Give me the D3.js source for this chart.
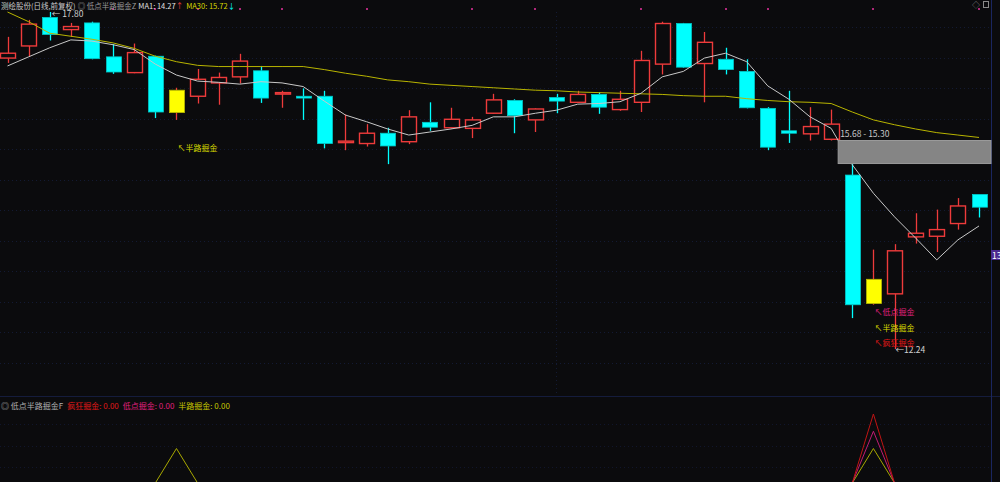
<!DOCTYPE html>
<html>
<head>
<meta charset="utf-8">
<script src="https://cdn.jsdelivr.net/npm/d3@7/dist/d3.min.js"></script>
<style>
  html, body { margin: 0; padding: 0; background: #0b0b0d; }
  svg { display: block; }
  text { font-family: "Noto Sans CJK SC", "Noto Sans", sans-serif; }
</style>
</head>
<body>
<svg id="chart"></svg>
<script>
// daily candles
var opens  = [17.04,17.24,17.71,17.51,17.62,17.06,16.80,17.07,16.51,16.41,16.63,16.73,16.83,16.47,16.41,16.41,15.66,15.63,15.80,15.66,15.98,15.89,15.88,16.13,16.34,16.02,16.39,16.31,16.44,16.19,16.31,16.94,17.61,16.95,17.02,16.82,16.21,15.84,15.79,15.70,15.11,13.39,13.15,14.09,14.10,14.31,14.79];
var closes = [17.12,17.60,17.43,17.56,17.03,16.81,17.13,16.15,16.14,16.69,16.72,16.99,16.38,16.47,16.38,15.63,15.67,15.80,15.59,16.07,15.90,16.03,16.02,16.35,16.09,16.20,16.33,16.44,16.23,16.36,17.00,17.61,16.89,17.30,16.85,16.22,15.57,15.80,15.91,15.95,12.97,12.99,13.86,14.15,14.21,14.60,14.58];
var highs  = [17.39,17.67,17.80,17.62,17.64,17.27,17.28,17.08,16.55,16.86,16.80,17.11,16.91,16.50,16.54,16.50,16.11,15.95,15.89,16.18,16.31,16.22,16.07,16.45,16.36,16.21,16.45,16.50,16.48,16.50,17.16,17.64,17.62,17.47,17.21,17.02,16.23,16.50,16.23,16.19,15.30,13.88,13.97,14.48,14.54,14.73,14.79];
var lows   = [16.96,17.06,17.33,17.39,17.02,16.78,16.79,16.05,16.02,16.29,16.27,16.62,16.30,16.22,16.02,15.55,15.52,15.58,15.29,15.62,15.84,15.88,15.72,16.12,15.80,15.82,16.13,16.30,16.12,16.17,16.15,16.77,16.88,16.31,16.77,16.21,15.52,15.64,15.68,15.68,12.75,12.97,12.24,13.98,13.84,14.21,14.41];

// white average line (MA1 in header) and yellow MA30
var maShort = [16.91,17.06,17.21,17.34,17.32,17.26,17.18,16.94,16.76,16.66,16.64,16.61,16.65,16.63,16.57,16.33,16.10,15.99,15.87,15.77,15.82,15.87,15.93,16.07,16.07,16.13,16.18,16.28,16.29,16.32,16.46,16.73,16.82,17.04,17.12,16.98,16.58,16.36,16.07,15.88,15.28,14.81,14.42,14.07,13.71,14.04,14.27];
var ma30    = [17.80,17.64,17.45,17.40,17.35,17.29,17.20,17.07,16.98,16.92,16.90,16.90,16.90,16.90,16.90,16.85,16.79,16.74,16.68,16.65,16.61,16.59,16.57,16.55,16.53,16.51,16.50,16.48,16.47,16.46,16.45,16.44,16.42,16.41,16.41,16.37,16.34,16.32,16.31,16.29,16.15,16.02,15.94,15.87,15.81,15.77,15.73];

// indicator signals (day index) and their levels in the lower panel
var halfSignalDays  = [8, 41];
var lowSignalDays   = [41];
var crazySignalDays = [41];
var halfLevel = 1, lowLevel = 1.5, crazyLevel = 2;

// small marks along the top edge
var markDays = [5,7,9,11,13,17,22,25,30,34,36,41,46];

// price gap
var gapFromDay = 39, gapHigh = 15.68, gapLow = 15.30;

var dayIndex = d3.range(opens.length);

var W = 1000, H = 482;
var RED = "#ee3b3b", CYAN = "#00ffff", YEL = "#ffff00";

var svg = d3.select("#chart")
	.attr("width", W)
	.attr("height", H)
	.style("background", "#0b0b0d");

var x = d3.scalePoint().domain(dayIndex).range([7.5, 979]);
var y = d3.scaleLinear().domain([12.24, 17.80]).range([349, 12]);
var ySub = d3.scaleLinear().domain([0, crazyLevel]).range([483, 414]);
var bodyW = 15;

// grid
var gridPrices = d3.range(17.55, 11.9, -0.503);
svg.append("g").selectAll("line")
	.data(gridPrices)
	.enter().append("line")
	.attr("x1", 0).attr("x2", 991)
	.attr("y1", function(d) { return Math.round(y(d)) + 0.5; })
	.attr("y2", function(d) { return Math.round(y(d)) + 0.5; })
	.attr("stroke", "#131a33")
	.attr("stroke-dasharray", "1,3");
svg.append("line")
	.attr("x1", 556.5).attr("x2", 556.5).attr("y1", 12).attr("y2", 396)
	.attr("stroke", "#131a33").attr("stroke-dasharray", "1,3");
[424.5, 446.5, 467.5].forEach(function(gy) {
	svg.append("line").attr("x1", 0).attr("x2", 991).attr("y1", gy).attr("y2", gy)
		.attr("stroke", "#11162c").attr("stroke-dasharray", "1,3");
});

// panel separators / right axis
svg.append("line").attr("x1", 0).attr("x2", W).attr("y1", 396.5).attr("y2", 396.5).attr("stroke", "#151c3c");
svg.append("line").attr("x1", 991.5).attr("x2", 991.5).attr("y1", 0).attr("y2", H).attr("stroke", "#1a2660");

// candles
function colorOf(i) {
	if (halfSignalDays.indexOf(i) >= 0) return YEL;
	return closes[i] >= opens[i] ? RED : CYAN;
}

var candles = svg.append("g").selectAll("g")
	.data(dayIndex)
	.enter().append("g");

candles.append("line")
	.attr("x1", function(i) { return Math.round(x(i)) + 0.5; })
	.attr("x2", function(i) { return Math.round(x(i)) + 0.5; })
	.attr("y1", function(i) { return y(highs[i]); })
	.attr("y2", function(i) { return y(Math.max(opens[i], closes[i])); })
	.attr("stroke", function(i) { return colorOf(i) == YEL ? RED : colorOf(i); })
	.attr("stroke-width", 1.3);
candles.append("line")
	.attr("x1", function(i) { return Math.round(x(i)) + 0.5; })
	.attr("x2", function(i) { return Math.round(x(i)) + 0.5; })
	.attr("y1", function(i) { return y(Math.min(opens[i], closes[i])); })
	.attr("y2", function(i) { return y(lows[i]); })
	.attr("stroke", function(i) { return colorOf(i) == YEL ? RED : colorOf(i); })
	.attr("stroke-width", 1.3);

candles.append("rect")
	.attr("x", function(i) { return Math.round(x(i) - bodyW / 2) + 0.5; })
	.attr("width", bodyW)
	.attr("y", function(i) { return y(Math.max(opens[i], closes[i])); })
	.attr("height", function(i) { return Math.max(1.5, Math.abs(y(opens[i]) - y(closes[i]))); })
	.attr("fill", function(i) {
		var c = colorOf(i);
		return c == RED ? "#0b0b0d" : c;
	})
	.attr("stroke", function(i) {
		var c = colorOf(i);
		if (c == RED) return RED;
		if (c == YEL) return "#b8b800";
		return "#00c8c8";
	})
	.attr("stroke-width", function(i) { return colorOf(i) == RED ? 1.4 : 0.8; });

// averages
var lineGen = function(arr) {
	return d3.line()
		.x(function(i) { return x(i); })
		.y(function(i) { return y(arr[i]); })(dayIndex);
};
svg.append("path").attr("d", lineGen(ma30))
	.attr("fill", "none").attr("stroke", "#b8b400").attr("stroke-width", 1);
svg.append("path").attr("d", lineGen(maShort))
	.attr("fill", "none").attr("stroke", "#c8c8c8").attr("stroke-width", 1);

// gap box
svg.append("rect")
	.attr("x", x(gapFromDay) + 7)
	.attr("y", y(gapHigh))
	.attr("width", 991 - x(gapFromDay) - 7)
	.attr("height", y(gapLow) - y(gapHigh))
	.attr("fill", "#858585")
	.attr("stroke", "#9a9a9a");
svg.append("text")
	.attr("x", x(gapFromDay) + 9)
	.attr("y", y(gapHigh) - 3)
	.attr("fill", "#c8c8c8")
	.attr("font-size", 8.5)
	.text(gapHigh.toFixed(2) + " - " + gapLow.toFixed(2));

// high / low markers
var hiDay = d3.maxIndex(highs), loDay = d3.minIndex(lows);
svg.append("text").attr("x", x(hiDay) + 2).attr("y", y(highs[hiDay]) + 5)
	.attr("fill", "#d0d0d0").attr("font-size", 8.5).text("← " + highs[hiDay].toFixed(2));
svg.append("text").attr("x", x(loDay) + 1).attr("y", y(lows[loDay]) + 3.5)
	.attr("fill", "#d0d0d0").attr("font-size", 8.5).text("←" + lows[loDay].toFixed(2));

// signal labels under the candles
function signalLabel(days, text, color, dy) {
	svg.append("g").selectAll("text")
		.data(days)
		.enter().append("text")
		.attr("x", function(i) { return x(i) + 1; })
		.attr("y", function(i) { return y(lows[i]) + dy; })
		.attr("fill", color)
		.attr("font-size", 8)
		.text("↖" + text);
}
signalLabel(halfSignalDays.slice(0, 1), "半路掘金", "#d8d800", 31);
signalLabel(lowSignalDays, "低点掘金", "#e0207e", 10);
svg.append("text").attr("x", x(41) + 1).attr("y", y(lows[41]) + 26)
	.attr("fill", "#d8d800").attr("font-size", 8).text("↖半路掘金");
signalLabel(crazySignalDays, "疯狂掘金", "#e01818", 41);

// marks on the top edge
svg.append("g").selectAll("rect")
	.data(markDays)
	.enter().append("rect")
	.attr("x", function(i) { return Math.round(x(i)) - 1; })
	.attr("y", 8).attr("width", 2).attr("height", 2)
	.attr("fill", "#b0287a");

// right price tag
svg.append("rect").attr("x", 991).attr("y", 250).attr("width", 9).attr("height", 10).attr("fill", "#4a2a90");
svg.append("text").attr("x", 992).attr("y", 258.5).attr("fill", "#ffffff").attr("font-size", 8.5).text("13");

// header
var head = svg.append("text").attr("x", 1).attr("y", 8.5).attr("font-size", 7.5);
head.append("tspan").attr("fill", "#c8c8c8").text("测绘股份(日线,前复权)");
head.append("tspan").attr("fill", "#9a9a9a").attr("dx", 2).text("◎ 低点半路掘金Z");
head.append("tspan").attr("fill", "#e0e0e0").attr("dx", 2).text("MA1: " + maShort[maShort.length - 1].toFixed(2));
head.append("tspan").attr("fill", RED).text("↑");
head.append("tspan").attr("fill", "#d8d800").attr("dx", 3).text("MA30: 15.72");
head.append("tspan").attr("fill", CYAN).text("↓");
svg.append("text").attr("x", 972).attr("y", 8).attr("fill", "#8a8a8a").attr("font-size", 8).text("◇");
svg.append("rect").attr("x", 983.5).attr("y", 1.5).attr("width", 5).attr("height", 6)
	.attr("fill", "none").attr("stroke", "#8a8a8a");

// lower indicator panel
var sub = svg.append("text").attr("x", 1).attr("y", 409).attr("font-size", 8);
sub.append("tspan").attr("fill", "#b0b0b0").text("◎ 低点半路掘金F");
sub.append("tspan").attr("fill", "#e01818").attr("dx", 4).text("疯狂掘金: 0.00");
sub.append("tspan").attr("fill", "#e0207e").attr("dx", 4).text("低点掘金: 0.00");
sub.append("tspan").attr("fill", "#c8c800").attr("dx", 4).text("半路掘金: 0.00");

function signalSeries(days, level) {
	return dayIndex.map(function(i) { return days.indexOf(i) >= 0 ? level : 0; });
}
var subLine = d3.line()
	.x(function(d, i) { return x(i); })
	.y(function(d) { return ySub(d); });
svg.append("path").attr("d", subLine(signalSeries(halfSignalDays, halfLevel)))
	.attr("fill", "none").attr("stroke", "#a8a800").attr("stroke-width", 1);
svg.append("path").attr("d", subLine(signalSeries(lowSignalDays, lowLevel)))
	.attr("fill", "none").attr("stroke", "#c01c74").attr("stroke-width", 1);
svg.append("path").attr("d", subLine(signalSeries(crazySignalDays, crazyLevel)))
	.attr("fill", "none").attr("stroke", "#c01414").attr("stroke-width", 1);
</script>
</body>
</html>
